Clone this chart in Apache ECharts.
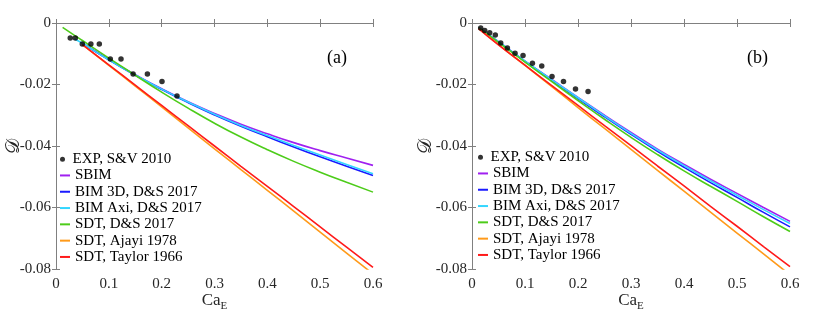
<!DOCTYPE html>
<html>
<head>
<meta charset="utf-8">
<script src="https://cdn.jsdelivr.net/npm/echarts@6/dist/echarts.min.js"></script>
<style>html,body{margin:0;padding:0;background:#fff}#c{width:830px;height:309px}</style>
</head>
<body>
<div id="c"></div>
<script>
// ---------- data ----------
const names = ['EXP, S&V 2010','SBIM','BIM 3D, D&S 2017','BIM Axi, D&S 2017','SDT, D&S 2017','SDT, Ajayi 1978','SDT, Taylor 1966'];
const xTicks = [0, 0.1, 0.2, 0.3, 0.4, 0.5, 0.6];
const yTicks = [-0.08, -0.06, -0.04, -0.02, 0];

// panel (a)
const expACa = [0.027, 0.0366, 0.0498, 0.066, 0.082, 0.1028, 0.123, 0.146, 0.173, 0.2006, 0.229];
const expAD  = [-0.0049, -0.0049, -0.0068, -0.0068, -0.0068, -0.0117, -0.0117, -0.0166, -0.0166, -0.019, -0.0237];
const caA     = [0.0125, 0.035, 0.05, 0.1, 0.15, 0.2, 0.25, 0.3, 0.35, 0.4, 0.45, 0.5, 0.55, 0.6];
const sbimA   = [null, null, -0.0066, -0.0119, -0.0168, -0.0214, -0.0256, -0.0294, -0.0329, -0.0360, -0.0389, -0.0415, -0.0439, -0.0463];
const bim3dA  = [null, null, -0.0066, -0.0120, -0.0170, -0.0216, -0.0259, -0.0299, -0.0336, -0.0370, -0.0403, -0.0435, -0.0466, -0.0496];
const bimAxiA = [null, -0.0052, -0.0066, -0.0120, -0.0169, -0.0215, -0.0257, -0.0297, -0.0333, -0.0366, -0.0398, -0.0429, -0.0460, -0.0490];
const sdtDSA  = [-0.0014, -0.0040, -0.0057, -0.0114, -0.0170, -0.0225, -0.0277, -0.0326, -0.0371, -0.0412, -0.0450, -0.0485, -0.0518, -0.0550];
const ajayiA  = [null, null, -0.0070, -0.0138, -0.0205, -0.0273, -0.0341, -0.0409, -0.0477, -0.0544, -0.0612, -0.0680, -0.0748, -0.0816];
const taylorA = [null, null, -0.0070, -0.0136, -0.0202, -0.0268, -0.0334, -0.0400, -0.0466, -0.0531, -0.0597, -0.0663, -0.0729, -0.0795];

// panel (b)
const expBCa = [0.0164, 0.024, 0.0334, 0.044, 0.0542, 0.0668, 0.0812, 0.0963, 0.114, 0.1316, 0.151, 0.1726, 0.1953, 0.219];
const expBD  = [-0.0016, -0.0024, -0.0032, -0.0039, -0.0065, -0.0081, -0.0098, -0.0106, -0.0131, -0.014, -0.0174, -0.019, -0.0215, -0.0223];
const caB     = [0.0125, 0.05, 0.1, 0.15, 0.2, 0.25, 0.3, 0.35, 0.4, 0.45, 0.5, 0.55, 0.6];
const sbimB   = [-0.0015, -0.0061, -0.0124, -0.0183, -0.0242, -0.0300, -0.0356, -0.0410, -0.0460, -0.0508, -0.0554, -0.0600, -0.0645];
const bim3dB  = [-0.0015, -0.0062, -0.0125, -0.0186, -0.0246, -0.0305, -0.0362, -0.0417, -0.0469, -0.0519, -0.0567, -0.0616, -0.0663];
const bimAxiB = [-0.0015, -0.0061, -0.0124, -0.0184, -0.0243, -0.0302, -0.0359, -0.0413, -0.0464, -0.0513, -0.0560, -0.0607, -0.0652];
const sdtDSB  = [-0.0015, -0.0063, -0.0127, -0.0190, -0.0252, -0.0313, -0.0372, -0.0428, -0.0481, -0.0531, -0.0580, -0.0630, -0.0678];
const ajayiB  = [-0.0018, -0.0070, -0.0138, -0.0206, -0.0275, -0.0343, -0.0411, -0.0479, -0.0547, -0.0615, -0.0683, -0.0751, -0.0819];
const taylorB = [-0.0018, -0.0071, -0.0137, -0.0203, -0.0268, -0.0334, -0.0399, -0.0465, -0.0530, -0.0596, -0.0661, -0.0727, -0.0792];

// ---------- styling ----------
const colors = ['#000000', '#a020f0', '#1a1aff', '#33d6ff', '#4dcc1a', '#ff9a1a', '#ff1a1a'];
const FONT = 'Liberation Serif';
const AX = '#808080';
const TXT = '#262626';

function pairs(xs, ys) {
  const out = [];
  xs.forEach((x, i) => { if (ys[i] !== null && ys[i] !== undefined) out.push([x, ys[i]]); });
  return out;
}

const xStep = xTicks[1] - xTicks[0];
const yStep = yTicks[1] - yTicks[0];

function xAxes(grid, nameGap) {
  const base = {
    type: 'value', gridIndex: grid, min: xTicks[0], max: xTicks[xTicks.length - 1], interval: xStep,
    axisLine: { show: true, lineStyle: { color: AX, width: 1 } },
    axisTick: { show: true, inside: true, length: 4, lineStyle: { color: AX } },
    splitLine: { show: false }
  };
  return [
    Object.assign({}, base, {
      position: 'bottom',
      axisLabel: { show: true, color: TXT, fontFamily: FONT, fontSize: 15, margin: 8,
        formatter: v => String(Math.round(v * 10) / 10) },
      name: '{a|Ca}{b|E}', nameLocation: 'middle', nameGap: nameGap, nameMoveOverlap: false,
      nameTextStyle: { color: TXT, fontFamily: FONT, verticalAlign: 'top',
        rich: { a: { fontFamily: FONT, fontSize: 17, color: TXT, lineHeight: 17, verticalAlign: 'top' },
                b: { fontFamily: FONT, fontSize: 11, color: TXT, lineHeight: 11, verticalAlign: 'top', padding: [9, 0, 0, 0] } } }
    }),
    Object.assign({}, base, { position: 'top', axisLabel: { show: false } })
  ];
}
function yAxes(grid, nameGap) {
  const base = {
    type: 'value', gridIndex: grid, min: yTicks[0], max: yTicks[yTicks.length - 1], interval: yStep,
    axisLine: { show: true, lineStyle: { color: AX, width: 1 } },
    axisTick: { show: true, inside: true, length: 4, lineStyle: { color: AX } },
    splitLine: { show: false }
  };
  return [
    Object.assign({}, base, {
      position: 'left',
      axisLabel: { show: true, color: TXT, fontFamily: FONT, fontSize: 15, margin: 5,
        formatter: v => (Math.abs(v) < 1e-9 ? '0' : (Math.round(v * 100) / 100).toFixed(2)) },
      name: '\u{1D49F}', nameLocation: 'middle', nameGap: nameGap, nameRotate: 90, nameMoveOverlap: false,
      nameTextStyle: { color: TXT, fontFamily: 'DejaVu Serif', fontSize: 19 }
    }),
    Object.assign({}, base, { position: 'right', axisLabel: { show: false } })
  ];
}

function panelSeries(grid, expX, expY, ca, curves) {
  const s = [];
  curves.forEach((vals, k) => {
    s.push({
      type: 'line', name: names[k + 1], xAxisIndex: grid * 2, yAxisIndex: grid * 2,
      data: pairs(ca, vals), smooth: true, symbol: 'none', showSymbol: false,
      lineStyle: { color: colors[k + 1], width: 1.6 }, itemStyle: { color: colors[k + 1] },
      z: 2, animation: false
    });
  });
  s.push({
    type: 'scatter', name: names[0], xAxisIndex: grid * 2, yAxisIndex: grid * 2,
    data: pairs(expX, expY), symbol: 'circle', symbolSize: 5.5,
    itemStyle: { color: colors[0] }, z: 5, animation: false
  });
  return s;
}

function legends(left, top) {
  const ts = { fontFamily: FONT, fontSize: 15, color: '#000', lineHeight: 16.3 };
  return [
    { data: [{ name: names[0], icon: 'circle' }], orient: 'vertical', left: left, top: top,
      itemWidth: 10, itemHeight: 5, itemGap: 0, textStyle: ts, selectedMode: false, padding: 0 },
    { data: names.slice(1).map(n => ({ name: n, icon: 'rect' })), orient: 'vertical', left: left, top: top + 16.3,
      itemWidth: 10, itemHeight: 2, itemGap: 0, textStyle: ts, selectedMode: false, padding: 0 }
  ];
}

const chart = echarts.init(document.getElementById('c'), null, { renderer: 'canvas' });
chart.setOption({
  animation: false,
  backgroundColor: '#ffffff',
  title: [
    { text: '(a)', left: 327, top: 49, padding: 0, textStyle: { fontFamily: FONT, fontSize: 18, fontWeight: 'normal', color: '#000' } },
    { text: '(b)', left: 747, top: 49, padding: 0, textStyle: { fontFamily: FONT, fontSize: 18, fontWeight: 'normal', color: '#000' } }
  ],
  grid: [
    { left: 56, top: 23, width: 317, height: 246, containLabel: false, outerBoundsMode: 'none' },
    { left: 472, top: 23, width: 318, height: 246, containLabel: false, outerBoundsMode: 'none' }
  ],
  legend: legends(60, 151).concat(legends(478, 149)),
  xAxis: xAxes(0, 23).concat(xAxes(1, 23)),
  yAxis: yAxes(0, 32).concat(yAxes(1, 36)),
  series: panelSeries(0, expACa, expAD, caA, [sbimA, bim3dA, bimAxiA, sdtDSA, ajayiA, taylorA])
    .concat(panelSeries(1, expBCa, expBD, caB, [sbimB, bim3dB, bimAxiB, sdtDSB, ajayiB, taylorB]))
});
</script>
</body>
</html>
